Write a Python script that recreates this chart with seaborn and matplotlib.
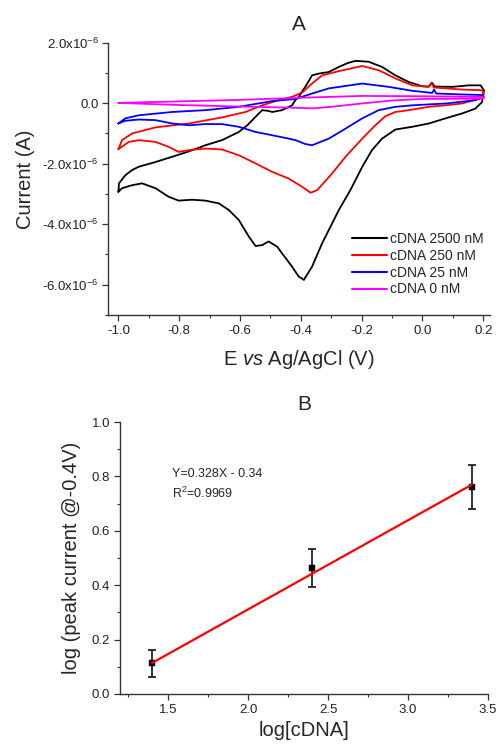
import numpy as np
import pandas as pd
import matplotlib
matplotlib.use("Agg")
import matplotlib.pyplot as plt
from matplotlib.ticker import FixedLocator, FuncFormatter
import seaborn as sns

sns.set_theme(style="ticks")
plt.rcParams['font.family'] = ['Liberation Sans', 'DejaVu Sans']
plt.rcParams['mathtext.fontset'] = 'custom'
plt.rcParams['mathtext.rm'] = 'Liberation Sans'
plt.rcParams['mathtext.it'] = 'Liberation Sans:italic'

# ---------------- Panel A data (E in V, I in uA) ----------------
labels = ["cDNA 2500 nM", "cDNA 250 nM", "cDNA 25 nM", "cDNA 0 nM"]
colors = ["#000000", "#ff0000", "#0000ff", "#ff00ff"]

e_2500 = [-1.0, -0.998, -0.977, -0.955, -0.933, -0.88, -0.823, -0.77, -0.714, -0.659, -0.604,
          -0.575, -0.549, -0.527, -0.51, -0.494, -0.462, -0.429, -0.418, -0.407, -0.385, -0.363,
          -0.341, -0.308, -0.275, -0.245, -0.22, -0.177, -0.133, -0.089, -0.045, -0.001, 0.02,
          0.032, 0.04, 0.098, 0.152, 0.191, 0.202,
          0.196, 0.174, 0.13, 0.076, 0.021, -0.034, -0.089, -0.133, -0.166, -0.198, -0.237,
          -0.275, -0.33, -0.363, -0.39, -0.407, -0.429, -0.462, -0.478, -0.506, -0.527, -0.549,
          -0.571, -0.604, -0.637, -0.67, -0.714, -0.758, -0.802, -0.835, -0.878, -0.922, -0.955,
          -0.988, -1.0]
i_2500 = [-2.93, -2.65, -2.38, -2.21, -2.10, -1.95, -1.77, -1.60, -1.39, -1.22, -0.95,
          -0.72, -0.45, -0.23, -0.25, -0.29, -0.23, -0.07, 0.10, 0.21, 0.55, 0.92,
          0.98, 1.03, 1.20, 1.33, 1.40, 1.37, 1.20, 0.92, 0.70, 0.56, 0.55,
          0.67, 0.55, 0.54, 0.59, 0.59, 0.43,
          0.04, -0.18, -0.34, -0.50, -0.67, -0.78, -0.87, -1.17, -1.55, -2.10, -2.87,
          -3.53, -4.63, -5.40, -5.84, -5.73, -5.40, -4.96, -4.74, -4.57, -4.69, -4.72,
          -4.41, -3.86, -3.53, -3.31, -3.22, -3.19, -3.22, -3.09, -2.81, -2.65, -2.71,
          -2.81, -2.93]

e_250 = [-1.0, -0.988, -0.955, -0.878, -0.768, -0.659, -0.582, -0.527, -0.473, -0.429, -0.396,
         -0.363, -0.33, -0.275, -0.198, -0.144, -0.089, -0.034, 0.021, 0.029, 0.037, 0.13,
         0.196, 0.202,
         0.191, 0.13, 0.076, 0.021, -0.045, -0.089, -0.122, -0.155, -0.198, -0.253, -0.297,
         -0.346, -0.368, -0.396, -0.44, -0.494, -0.549, -0.604, -0.659, -0.714, -0.768, -0.802,
         -0.835, -0.878, -0.933, -0.966, -0.993, -1.0]
i_250 = [-1.52, -1.22, -1.00, -0.80, -0.67, -0.47, -0.29, -0.07, 0.10, 0.21, 0.35,
         0.65, 0.92, 1.06, 1.23, 1.09, 0.82, 0.59, 0.54, 0.68, 0.52, 0.45,
         0.43, 0.30,
         0.16, -0.01, -0.07, -0.12, -0.23, -0.29, -0.43, -0.73, -1.17, -1.77, -2.32,
         -2.87, -2.96, -2.76, -2.49, -2.27, -1.99, -1.72, -1.53, -1.50, -1.55, -1.61,
         -1.44, -1.28, -1.22, -1.28, -1.47, -1.52]

e_25 = [-1.0, -0.977, -0.933, -0.823, -0.714, -0.604, -0.494, -0.418, -0.363, -0.308, -0.198,
        -0.111, -0.034, 0.032, 0.038, 0.045, 0.13, 0.196, 0.202,
        0.174, 0.076, -0.034, -0.089, -0.144, -0.198, -0.253, -0.308, -0.363, -0.385, -0.418,
        -0.44, -0.494, -0.549, -0.604, -0.659, -0.714, -0.768, -0.823, -0.878, -0.933, -0.977,
        -1.0]
i_25 = [-0.67, -0.50, -0.40, -0.29, -0.23, -0.12, 0.07, 0.14, 0.32, 0.49, 0.65,
        0.54, 0.41, 0.34, 0.45, 0.32, 0.29, 0.27, 0.20,
        0.10, -0.01, -0.07, -0.12, -0.23, -0.50, -0.84, -1.17, -1.39, -1.35, -1.22,
        -1.17, -1.06, -0.95, -0.78, -0.69, -0.69, -0.73, -0.67, -0.56, -0.54, -0.58,
        -0.67]

e_0 = [-1.0, -0.8, -0.6, -0.4, -0.2, 0.0, 0.196, 0.202,
       0.19, 0.0, -0.1, -0.2, -0.3, -0.36, -0.42, -0.6, -0.8, -1.0]
i_0 = [0.01, 0.06, 0.11, 0.18, 0.24, 0.23, 0.21, 0.18,
       0.15, 0.14, 0.09, -0.01, -0.12, -0.17, -0.15, -0.11, -0.06, 0.01]

# ---------------- Panel B data ----------------
log_c = [1.4, 2.4, 3.4]
log_peak = [0.113, 0.462, 0.762]
log_peak_err = [0.05, 0.07, 0.08]
fit_x = [1.4, 3.4]
fit_y = [0.114, 0.770]
fit_text = "Y=0.328X - 0.34"
r2_text = "R$^2$=0.9969"

rows = []
for lab, es, cs in zip(labels, [e_2500, e_250, e_25, e_0], [i_2500, i_250, i_25, i_0]):
    for k, (e, c) in enumerate(zip(es, cs)):
        rows.append({"E": e, "I": c, "label": lab, "order": k})
cv = pd.DataFrame(rows)

fig = plt.figure(figsize=(5.0, 7.45), dpi=100)
axA = fig.add_axes([0.2167, 0.5772, 0.98 - 0.2167, 0.9427 - 0.5772])
axB = fig.add_axes([0.24, 0.0685, 0.736, 0.365])

sns.lineplot(data=cv, x="E", y="I", hue="label", hue_order=labels,
             palette=dict(zip(labels, colors)), sort=False, estimator=None,
             lw=1.3, ax=axA)

axA.set_xlim(-1.033, 0.222)
axA.set_ylim(-7.0, 2.0)
axA.xaxis.set_major_locator(FixedLocator([-1.0, -0.8, -0.6, -0.4, -0.2, 0.0, 0.2]))
axA.xaxis.set_minor_locator(FixedLocator([-0.9, -0.7, -0.5, -0.3, -0.1, 0.1]))
axA.yaxis.set_major_locator(FixedLocator([-6, -4, -2, 0, 2]))
axA.yaxis.set_minor_locator(FixedLocator([-7, -5, -3, -1, 1]))
axA.xaxis.set_major_formatter(FuncFormatter(lambda v, p: f"{v:.1f}"))

def yfmt(v, p):
    if abs(v) < 1e-9:
        return "0.0"
    return f"{v:.1f}x10$^{{-6}}$"

axA.yaxis.set_major_formatter(FuncFormatter(yfmt))
axA.set_xlabel("E $\\it{vs}$ Ag/AgCl (V)", fontsize=14.5, labelpad=8)
axA.set_ylabel("Current (A)", fontsize=14.5, labelpad=5)
axA.set_title("A", fontsize=15, pad=9)

leg = axA.legend(loc="upper left", bbox_to_anchor=(0.625, 0.325), frameon=False,
                 fontsize=10, handlelength=2.5, handletextpad=0.2, labelspacing=0.2,
                 borderaxespad=0)
for h in leg.get_lines():
    h.set_linewidth(1.5)

# Panel B
axB.errorbar(log_c, log_peak, yerr=log_peak_err, fmt="none", ecolor="#222222",
             elinewidth=1.3, capsize=3.2, capthick=1.3, zorder=2)
sns.scatterplot(x=log_c, y=log_peak, marker="s", s=15, color="black",
                edgecolor="black", ax=axB, zorder=3)
sns.lineplot(x=fit_x, y=fit_y, color="#ff0000", lw=1.6, ax=axB, zorder=4)
axB.set_xlim(1.2, 3.5)
axB.set_ylim(0.0, 1.0)
axB.xaxis.set_major_locator(FixedLocator([1.5, 2.0, 2.5, 3.0, 3.5]))
axB.xaxis.set_minor_locator(FixedLocator([1.25, 1.75, 2.25, 2.75, 3.25]))
axB.yaxis.set_major_locator(FixedLocator([0.0, 0.2, 0.4, 0.6, 0.8, 1.0]))
axB.yaxis.set_minor_locator(FixedLocator([0.1, 0.3, 0.5, 0.7, 0.9]))
axB.xaxis.set_major_formatter(FuncFormatter(lambda v, p: f"{v:.1f}"))
axB.yaxis.set_major_formatter(FuncFormatter(lambda v, p: f"{v:.1f}"))
axB.set_xlabel("log[cDNA]", fontsize=14.5, labelpad=4)
axB.set_ylabel("log (peak current @-0.4V)", fontsize=14.5, labelpad=8)
axB.set_title("B", fontsize=15, pad=9)
axB.text(0.14, 0.809, fit_text, transform=axB.transAxes, fontsize=9, ha="left", va="center")
axB.text(0.14, 0.739, r2_text, transform=axB.transAxes, fontsize=9, ha="left", va="center")

for ax in (axA, axB):
    sns.despine(ax=ax)
    for s in ("left", "bottom"):
        ax.spines[s].set_color("#333333")
        ax.spines[s].set_linewidth(1.0)
    ax.tick_params(which="major", direction="out", length=4, width=0.9, color="#333333",
                   labelsize=9.5, labelcolor="#222222", pad=3)
    ax.tick_params(which="minor", direction="out", length=2.5, width=0.8, color="#333333")
    ax.set_facecolor("white")

fig.savefig("out.png", dpi=100, facecolor="white")
